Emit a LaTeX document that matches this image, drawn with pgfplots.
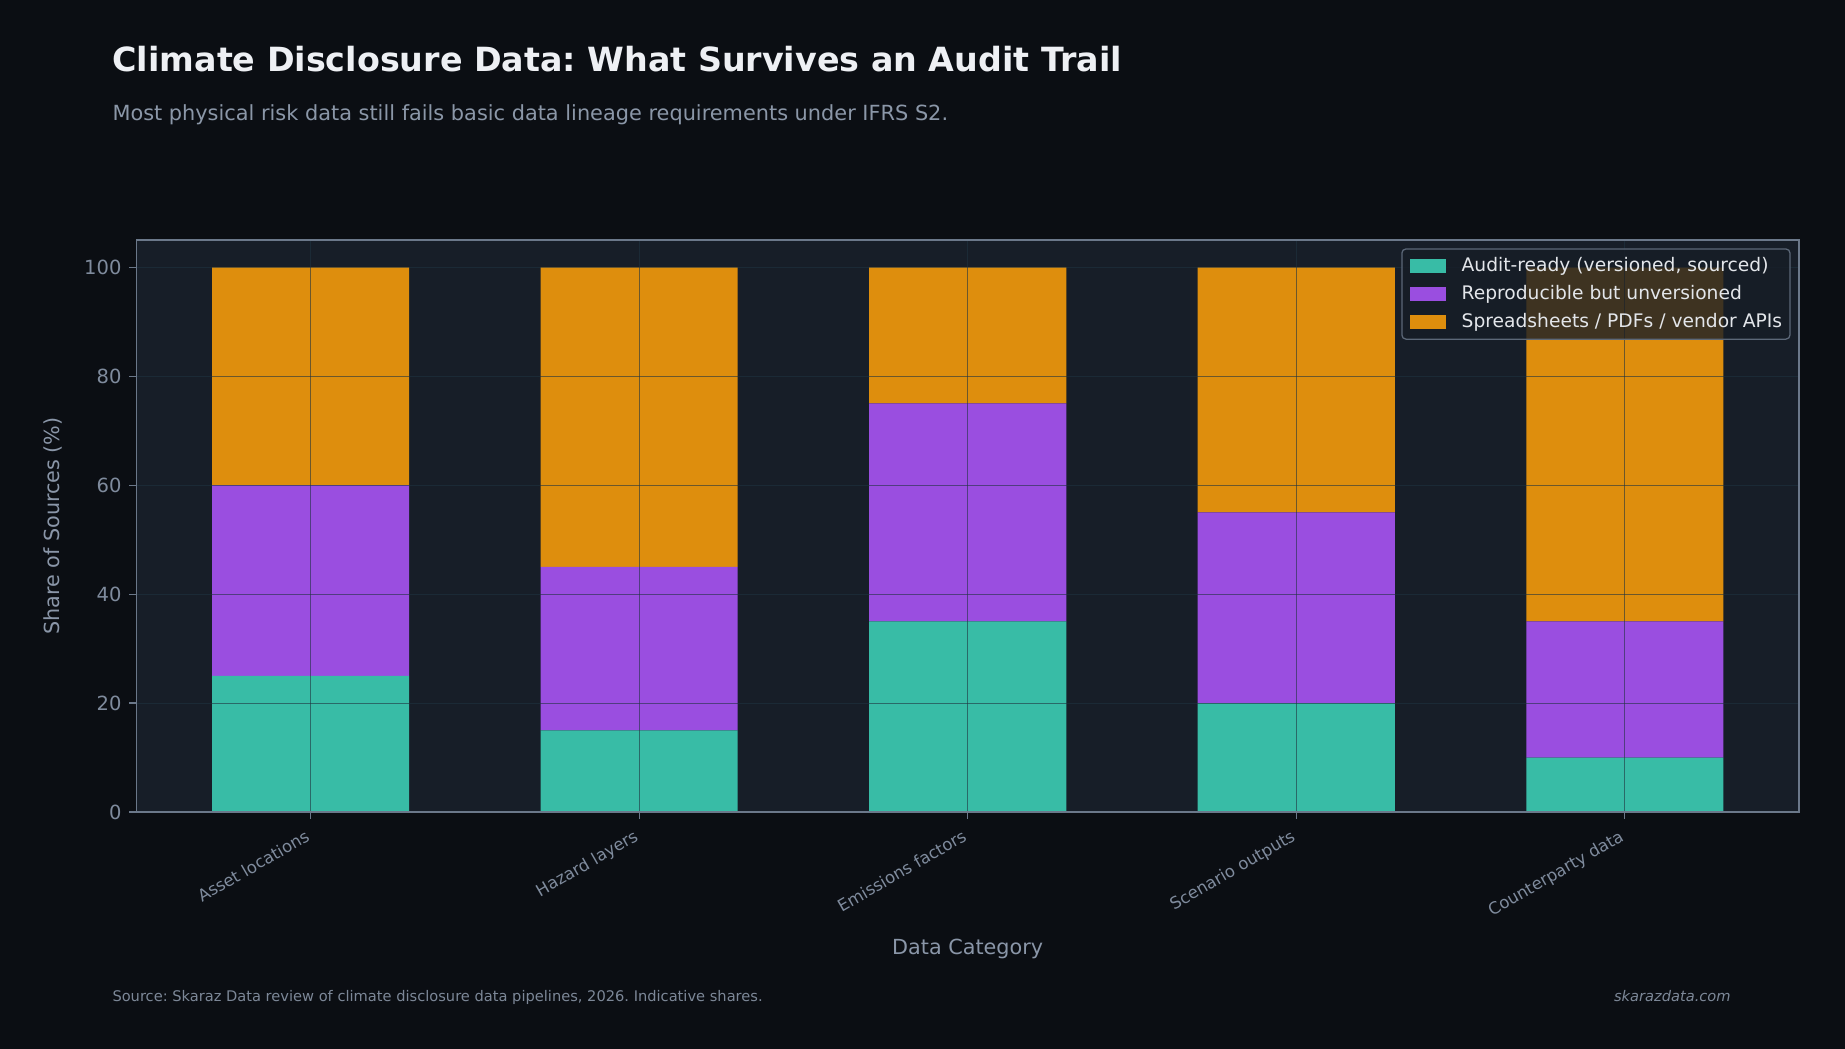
\documentclass[border=0pt]{standalone}
\usepackage{fontspec}
\setmainfont{DejaVu Sans}
\usepackage{pgfplots}
\pgfplotsset{compat=1.18}
\frenchspacing

\definecolor{figbg}{HTML}{0B0E13}
\definecolor{axbg}{HTML}{171E28}
\definecolor{spine}{HTML}{6B788A}
\definecolor{gridc}{HTML}{1F3340}
\definecolor{tickc}{HTML}{7F8B9D}
\definecolor{labc}{HTML}{8A96A8}
\definecolor{titlec}{HTML}{EEF0F4}
\definecolor{subc}{HTML}{8B97A8}
\definecolor{footc}{HTML}{7C8797}
\definecolor{legbg}{HTML}{161D26}
\definecolor{legedge}{HTML}{5C6878}
\definecolor{legtext}{HTML}{E3E6EA}
\definecolor{cteal}{HTML}{38BCA6}
\definecolor{cpurple}{HTML}{9A4EE0}
\definecolor{corange}{HTML}{DE8E0D}

\pgfplotsset{
  patchlegend/.style={
    legend image code/.code={\fill[##1, sharp corners, fill opacity=1] (0bp,-3.2bp) rectangle (17.6bp,3.2bp);}
  }
}

\begin{document}
\begin{tikzpicture}
\path[use as bounding box, fill=figbg] (0,0) rectangle (885.6bp,503.5bp);

% headline and subtitle
\node[anchor=base west, inner sep=0pt, text=titlec,
      font=\fontsize{16.05}{19}\selectfont\bfseries] at (53.8bp,469.4bp)
  {Climate Disclosure Data: What Survives an Audit Trail};
\node[anchor=base west, inner sep=0pt, text=subc,
      font=\fontsize{10.05}{12}\selectfont] at (53.8bp,445.6bp)
  {Most physical risk data still fails basic data lineage requirements under IFRS S2.};

\begin{axis}[
  at={(65.5bp,113.7bp)}, anchor=south west,
  scale only axis, width=798bp, height=274.6bp,
  ybar stacked, bar width=0.6,
  xmin=-0.53, xmax=4.53, ymin=0, ymax=105,
  axis background/.style={fill=axbg},
  axis line style={draw=spine, line width=0.7bp},
  xtick={0,1,2,3,4},
  xticklabels={Asset locations, Hazard layers, Emissions factors, Scenario outputs, Counterparty data},
  ytick={0,20,40,60,80,100},
  tick pos=left, tick align=outside,
  major tick length=3.4bp,
  every tick/.style={draw=spine, line width=0.6bp},
  grid=major,
  major grid style={draw=gridc, draw opacity=0.6, line width=0.45bp},
  axis on top,
  /pgf/number format/assume math mode=true,
  yticklabel style={font=\fontsize{9.4}{11}\selectfont, text=tickc, inner sep=0pt, xshift=-3.6bp},
  xticklabel style={font=\fontsize{8}{10}\selectfont, text=tickc, inner sep=0pt,
                    xshift=-3bp, yshift=-4.5bp, rotate=30, anchor=north east},
  legend style={
    at={(1,1)}, anchor=north east, xshift=-4bp, yshift=-4bp,
    font=\fontsize{9.0}{11}\selectfont, text=legtext,
    fill=legbg, fill opacity=0.8, text opacity=1, draw=legedge, draw opacity=1,
    line width=0.6bp, rounded corners=2bp,
    inner xsep=3.8bp, inner ysep=3.6bp,
    row sep=4.1bp,
    nodes={inner sep=0pt, text height=7.2bp, text depth=2.1bp},
    /tikz/every odd column/.append style={column sep=7.3bp},
  },
  legend cell align=left,
]
\addplot[fill=cteal, draw=none, patchlegend] coordinates {(0,25) (1,15) (2,35) (3,20) (4,10)};
\addlegendentry{Audit-ready (versioned, sourced)}
\addplot[fill=cpurple, draw=none, patchlegend] coordinates {(0,35) (1,30) (2,40) (3,35) (4,25)};
\addlegendentry{Reproducible but unversioned}
\addplot[fill=corange, draw=none, patchlegend] coordinates {(0,40) (1,55) (2,25) (3,45) (4,65)};
\addlegendentry{Spreadsheets / PDFs / vendor APIs}
\end{axis}

% axis titles
\node[rotate=90, anchor=center, inner sep=0pt, text=labc,
      font=\fontsize{10.0}{12}\selectfont] at (25.6bp,251bp) {Share of Sources (\%)};
\node[anchor=base, inner sep=0pt, text=labc,
      font=\fontsize{10.0}{12}\selectfont] at (464.5bp,45.1bp) {Data Category};

% footer
\node[anchor=base west, inner sep=0pt, text=footc,
      font=\fontsize{7.05}{9}\selectfont] at (53.8bp,22.7bp)
  {Source: Skaraz Data review of climate disclosure data pipelines, 2026. Indicative shares.};
\node[anchor=base east, inner sep=0pt, text=footc,
      font=\fontsize{7.05}{9}\selectfont\itshape] at (830.9bp,22.7bp) {skarazdata.com};
\end{tikzpicture}
\end{document}
